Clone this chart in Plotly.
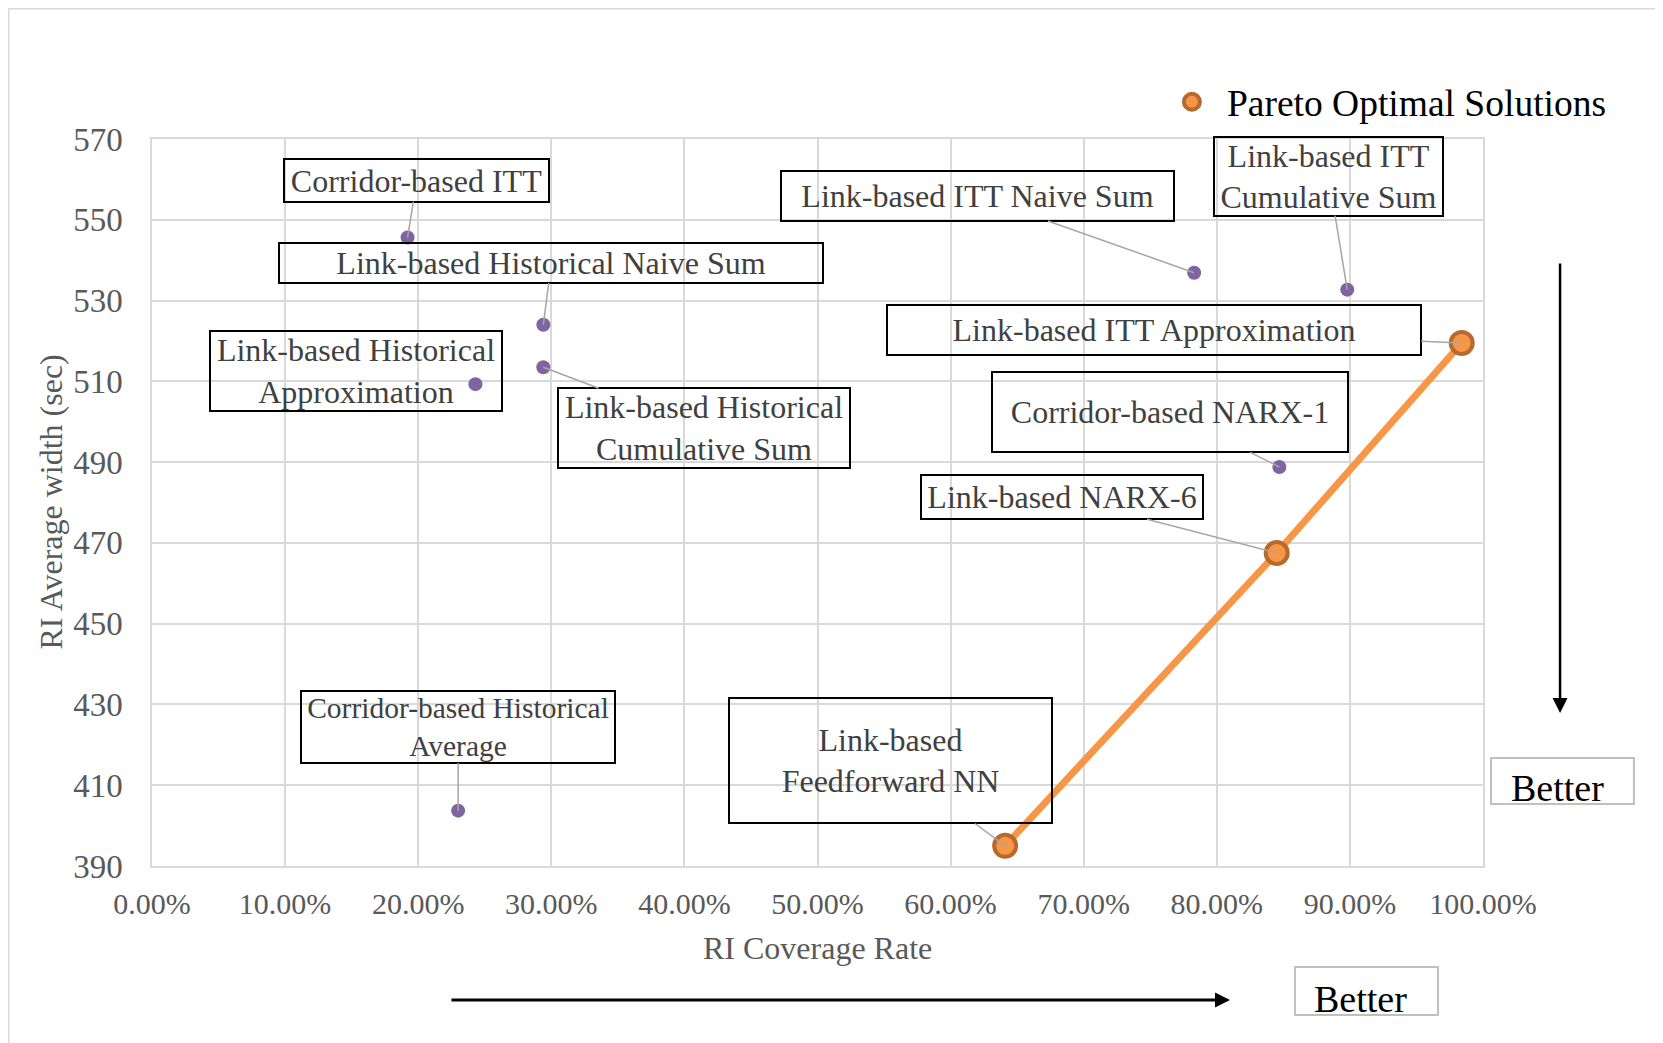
import plotly.graph_objects as go

# methods and their RI coverage rate / average width
methods = [
    "Corridor-based ITT",
    "Link-based Historical Naive Sum",
    "Link-based Historical Cumulative Sum",
    "Link-based Historical Approximation",
    "Corridor-based Historical Average",
    "Link-based ITT Naive Sum",
    "Link-based ITT Cumulative Sum",
    "Link-based ITT Approximation",
    "Corridor-based NARX-1",
    "Link-based NARX-6",
    "Link-based Feedforward NN",
]
coverage = [0.192, 0.294, 0.294, 0.243, 0.230, 0.783, 0.898, 0.984, 0.847, 0.845, 0.641]
avg_width = [545.6, 524.0, 513.5, 509.3, 403.7, 536.9, 532.7, 519.5, 488.8, 467.5, 395.0]

pareto = ["Link-based Feedforward NN", "Link-based NARX-6", "Link-based ITT Approximation"]

# label box text
label_text = {
    "Corridor-based ITT": "Corridor-based ITT",
    "Link-based Historical Naive Sum": "Link-based Historical Naive Sum",
    "Link-based Historical Cumulative Sum": "Link-based Historical<br>Cumulative Sum",
    "Link-based Historical Approximation": "Link-based Historical<br>Approximation",
    "Corridor-based Historical Average": "Corridor-based Historical<br>Average",
    "Link-based ITT Naive Sum": "Link-based ITT Naive Sum",
    "Link-based ITT Cumulative Sum": "Link-based ITT<br>Cumulative Sum",
    "Link-based ITT Approximation": "Link-based ITT Approximation",
    "Corridor-based NARX-1": "Corridor-based NARX-1",
    "Link-based NARX-6": "Link-based NARX-6",
    "Link-based Feedforward NN": "Link-based<br>Feedforward NN",
}
# label box placement: center (data coords), width/height px, font size
label_pos = {
    "Corridor-based ITT": (0.199, 559.8, 267, 45, 32),
    "Link-based Historical Naive Sum": (0.300, 539.3, 546, 42, 32),
    "Link-based Historical Cumulative Sum": (0.415, 498.4, 294, 82, 32),
    "Link-based Historical Approximation": (0.153, 512.6, 294, 82, 32),
    "Corridor-based Historical Average": (0.230, 424.4, 316, 74, 29.5),
    "Link-based ITT Naive Sum": (0.620, 555.9, 395, 52, 32),
    "Link-based ITT Cumulative Sum": (0.884, 560.8, 231, 81, 32),
    "Link-based ITT Approximation": (0.753, 522.6, 536, 52, 32),
    "Corridor-based NARX-1": (0.765, 502.3, 358, 82, 32),
    "Link-based NARX-6": (0.684, 481.3, 284, 46, 32),
    "Link-based Feedforward NN": (0.555, 416.0, 325, 127, 32),
}

FONT = "Liberation Serif"
ORANGE = "#F79646"
ORANGE_EDGE = "#B66A2E"
PURPLE = "#8064A2"
GRID = "#d9d9d9"

px_ = [coverage[methods.index(m)] for m in pareto]
py_ = [avg_width[methods.index(m)] for m in pareto]

fig = go.Figure()
fig.add_trace(go.Scatter(
    x=coverage, y=avg_width, mode="markers", showlegend=False,
    marker=dict(color=PURPLE, size=14),
))
fig.add_trace(go.Scatter(
    x=px_, y=py_, mode="lines", showlegend=False,
    line=dict(color=ORANGE, width=7),
))
fig.add_trace(go.Scatter(
    x=px_, y=py_, mode="markers", name="Pareto Optimal Solutions",
    marker=dict(color=ORANGE, size=22, line=dict(color=ORANGE_EDGE, width=4)),
))

annotations = []
for m, cx, cy in zip(methods, coverage, avg_width):
    bx, by, bw, bh, fs = label_pos[m]
    inside = m == "Link-based Historical Approximation"  # point sits inside its box
    annotations.append(dict(
        x=bx if inside else cx, y=by if inside else cy,
        ax=bx, ay=by, axref="x", ayref="y", xref="x", yref="y",
        text=label_text[m], showarrow=not inside,
        arrowhead=0, arrowwidth=1.5, arrowcolor="#a6a6a6", standoff=0,
        width=bw - 4, height=bh - 4, borderpad=0,
        bordercolor="black", borderwidth=2, bgcolor="rgba(0,0,0,0)",
        font=dict(family=FONT, size=fs, color="#404040"), align="center",
    ))

# axis titles
annotations.append(dict(
    x=-0.0766, y=0.5, xref="paper", yref="paper", xanchor="center", yanchor="middle",
    text="RI Average width (sec)", textangle=-90, showarrow=False,
    font=dict(family=FONT, size=32, color="#595959"),
))
annotations.append(dict(
    x=0.5, y=-0.113, xref="paper", yref="paper", xanchor="center", yanchor="middle",
    text="RI Coverage Rate", showarrow=False,
    font=dict(family=FONT, size=32, color="#595959"),
))
# "better" arrows
annotations.append(dict(
    x=1.0579, y=0.2105, xref="paper", yref="paper", ax=0, ay=-451, text="",
    showarrow=True, arrowhead=2, arrowsize=1.2, arrowwidth=2.5, arrowcolor="black",
))
annotations.append(dict(
    x=0.8099, y=-0.1843, xref="paper", yref="paper", ax=-780, ay=0, text="",
    showarrow=True, arrowhead=2, arrowsize=1.0, arrowwidth=3, arrowcolor="black",
))
annotations.append(dict(
    x=1.0556, y=0.107, xref="paper", yref="paper", xanchor="center", yanchor="middle",
    text="Better", showarrow=False, font=dict(family=FONT, size=38, color="black"),
))
annotations.append(dict(
    x=0.9076, y=-0.183, xref="paper", yref="paper", xanchor="center", yanchor="middle",
    text="Better", showarrow=False, font=dict(family=FONT, size=38, color="black"),
))

shapes = [
    dict(type="rect", xref="paper", yref="paper", x0=1.006, x1=1.1134, y0=0.0853, y1=0.1486,
         line=dict(color="#bfbfbf", width=2)),
    dict(type="rect", xref="paper", yref="paper", x0=0.8588, x1=0.9662, y0=-0.2050, y1=-0.1389,
         line=dict(color="#bfbfbf", width=2)),
    # outer chart border (top and left only visible)
    dict(type="line", xref="paper", yref="paper", x0=-0.1078, x1=1.14, y0=1.1795, y1=1.1795,
         line=dict(color=GRID, width=2)),
    dict(type="line", xref="paper", yref="paper", x0=-0.1078, x1=-0.1078, y0=1.1795, y1=-0.25,
         line=dict(color=GRID, width=2)),
]

fig.update_layout(
    width=1655, height=1035,
    margin=dict(l=144, r=180, t=131, b=177),
    paper_bgcolor="white", plot_bgcolor="white",
    font=dict(family=FONT, color="#595959"),
    annotations=annotations, shapes=shapes,
    legend=dict(x=0.755, y=1.051, xanchor="left", yanchor="middle", itemwidth=60,
                font=dict(family=FONT, size=37.5, color="black"), bgcolor="rgba(0,0,0,0)"),
)
fig.update_xaxes(
    range=[0, 1], dtick=0.1, tickformat=".2%", showgrid=True, gridcolor=GRID, gridwidth=1.5,
    showline=True, linecolor=GRID, linewidth=1.5, mirror=True, zeroline=False,
    tickfont=dict(family=FONT, size=30, color="#595959"), ticklabelstandoff=10,
)
fig.update_yaxes(
    range=[390, 570], tick0=390, dtick=20, showgrid=True, gridcolor=GRID, gridwidth=1.5,
    showline=True, linecolor=GRID, linewidth=1.5, mirror=True, zeroline=False,
    tickfont=dict(family=FONT, size=33, color="#595959"), ticklabelstandoff=21,
)

fig.write_html("out.html")
